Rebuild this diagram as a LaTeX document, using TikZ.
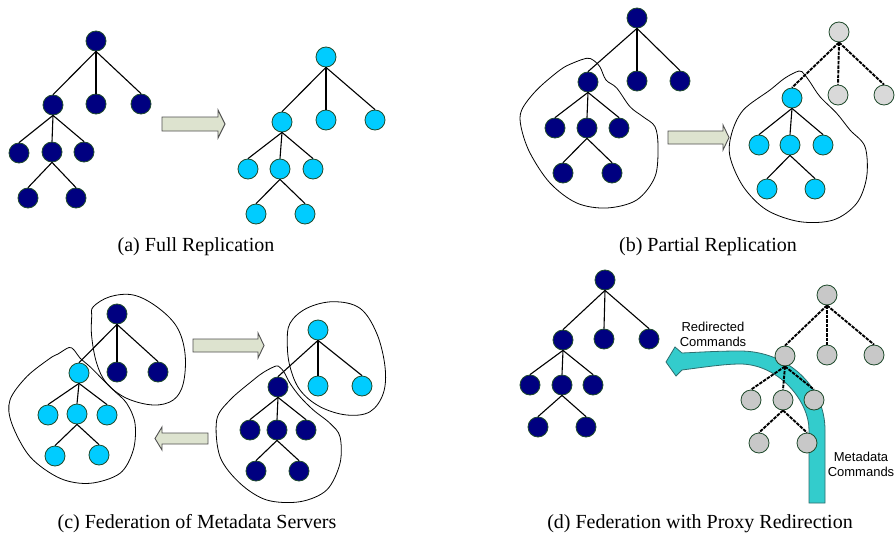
\documentclass[tikz,border=0pt]{standalone}
\usepackage{fontspec}
\setmainfont{Liberation Serif}
\newfontfamily\sansf{Liberation Sans}
\definecolor{navyc}{HTML}{000080}
\definecolor{cyanc}{HTML}{00CCFF}
\definecolor{grayc}{HTML}{C8C8C8}
\definecolor{graylt}{HTML}{D9D9D9}
\definecolor{ndstroke}{HTML}{1F4A2C}
\definecolor{blkfill}{HTML}{DDE3CF}
\definecolor{blkdraw}{HTML}{505050}
\definecolor{turq}{HTML}{33CCCC}
\definecolor{turqdraw}{HTML}{2E6E6E}
\begin{document}
\begin{tikzpicture}[x=1pt,y=-1pt,
 nd/.style={circle,minimum size=20pt,inner sep=0pt,line width=0.8pt,draw=ndstroke},
 dk/.style={nd,fill=navyc},
 cy/.style={nd,fill=cyanc},
 gy/.style={nd,fill=grayc},
 gyl/.style={nd,fill=graylt},
 edge/.style={line width=1.1pt,black},
 dedge/.style={line width=1.9pt,black,dash pattern=on 3.5pt off 1.1pt},
 blob/.style={line width=0.8pt,black},
 blk/.style={fill=blkfill,draw=blkdraw,line width=0.9pt},
 captxt/.style={font=\fontsize{20}{24}\selectfont},
 lab/.style={font=\sansf\fontsize{13}{15}\selectfont,align=center}]

\useasboundingbox[fill=white] (0,0) rectangle (895,538);

% ---------- (a) ----------
\node[dk] (aL-r)  at (96,41) {};
\node[dk] (aL-c1) at (53,105) {};
\node[dk] (aL-c2) at (96,104) {};
\node[dk] (aL-c3) at (141,104) {};
\node[dk] (aL-g1) at (19,153) {};
\node[dk] (aL-g2) at (52,152) {};
\node[dk] (aL-g3) at (84,152) {};
\node[dk] (aL-h1) at (28,198) {};
\node[dk] (aL-h2) at (76,198) {};

\node[cy] (aR-r)  at (326,57) {};
\node[cy] (aR-c1) at (282,122) {};
\node[cy] (aR-c2) at (326,120) {};
\node[cy] (aR-c3) at (375,120) {};
\node[cy] (aR-g1) at (248,169) {};
\node[cy] (aR-g2) at (280,169) {};
\node[cy] (aR-g3) at (313,169) {};
\node[cy] (aR-h1) at (256,214) {};
\node[cy] (aR-h2) at (305,214) {};

\draw[blk] (162,117) -- (218,117) -- (218,110) -- (225,124) -- (218,138) -- (218,131) -- (162,131) -- cycle;
\node[captxt] (capa) at (196,247) {(a) Full Replication};

% ---------- (b) ----------
\node[dk] (bL-r)  at (637,18) {};
\node[dk] (bL-c1) at (588,82) {};
\node[dk] (bL-c2) at (637,81) {};
\node[dk] (bL-c3) at (680,81) {};
\node[dk] (bL-g1) at (555,128) {};
\node[dk] (bL-g2) at (587,128) {};
\node[dk] (bL-g3) at (619,128) {};
\node[dk] (bL-h1) at (563,173) {};
\node[dk] (bL-h2) at (612,173) {};

\node[gyl] (bR-r)  at (839,32) {};
\node[cy]  (bR-c1) at (792,98) {};
\node[gyl] (bR-c2) at (838,95) {};
\node[gyl] (bR-c3) at (884,95) {};
\node[cy] (bR-g1) at (759,145) {};
\node[cy] (bR-g2) at (790,145) {};
\node[cy] (bR-g3) at (823,145) {};
\node[cy] (bR-h1) at (767,189) {};
\node[cy] (bR-h2) at (815,189) {};

\draw[blk] (668,131) -- (723,131) -- (723,125) -- (729,137.5) -- (723,150) -- (723,144) -- (668,144) -- cycle;
\node[captxt] (capb) at (708,247) {(b) Partial Replication};

% ---------- (c) ----------
\node[dk] (cL-r)  at (117,314) {};
\node[cy] (cL-c1) at (79,373) {};
\node[dk] (cL-c2) at (117,372) {};
\node[dk] (cL-c3) at (158,372) {};
\node[cy] (cL-g1) at (48,415) {};
\node[cy] (cL-g2) at (77,414) {};
\node[cy] (cL-g3) at (107,415) {};
\node[cy] (cL-h1) at (55,456) {};
\node[cy] (cL-h2) at (99,455) {};

\node[cy] (cR-r)  at (318,330) {};
\node[dk] (cR-c1) at (278,387) {};
\node[cy] (cR-c2) at (318,386) {};
\node[cy] (cR-c3) at (362,386) {};
\node[dk] (cR-g1) at (250,430) {};
\node[dk] (cR-g2) at (277,430) {};
\node[dk] (cR-g3) at (306,430) {};
\node[dk] (cR-h1) at (256,471) {};
\node[dk] (cR-h2) at (299,471) {};

\draw[blk] (193,339) -- (258,339) -- (258,333) -- (264,345.5) -- (258,358) -- (258,352) -- (193,352) -- cycle;
\draw[blk] (208,433) -- (162,433) -- (162,427) -- (155,438.5) -- (162,450) -- (162,444) -- (208,444) -- cycle;
\node[captxt] (capc) at (197,524) {(c) Federation of Metadata Servers};

% ---------- (d) ----------
\draw[fill=turq,draw=turqdraw,line width=0.8pt]
  (809,503) -- (825,503) -- (825,430) .. controls (825,385.8) and (786.9,351) .. (740,351)
  .. controls (715,351) and (695,352.5) .. (682,353) -- (675,347) -- (666,362) -- (676,376) -- (682,370)
  .. controls (705,367) and (725,364) .. (740,364)
  .. controls (778.1,364) and (809,400.4) .. (809,430) -- cycle;

\node[dk] (dL-r)  at (605,280) {};
\node[dk] (dL-c1) at (563,340) {};
\node[dk] (dL-c2) at (604,339) {};
\node[dk] (dL-c3) at (649,339) {};
\node[dk] (dL-g1) at (530,385) {};
\node[dk] (dL-g2) at (562,385) {};
\node[dk] (dL-g3) at (593,385) {};
\node[dk] (dL-h1) at (538,427) {};
\node[dk] (dL-h2) at (586,427) {};

\node[gy] (dR-r)  at (827,295) {};
\node[gy] (dR-c1) at (785,356) {};
\node[gy] (dR-c2) at (827,355) {};
\node[gy] (dR-c3) at (874,355) {};
\node[gy] (dR-g1) at (751,400) {};
\node[gy] (dR-g2) at (783,400) {};
\node[gy] (dR-g3) at (814,400) {};
\node[gy] (dR-h1) at (759,443) {};
\node[gy] (dR-h2) at (807,443) {};

\node[lab] (redir) at (713,334.5) {Redirected\\Commands};
\node[lab] (meta) at (861,464.5) {Metadata\\Commands};
\node[captxt] (capd) at (700,524) {(d) Federation with Proxy Redirection};

% ---------- edges ----------
\foreach \p in {aL,aR,bL,cL,cR,dL} {
  \draw[edge] (\p-r.south) -- (\p-c1.north);
  \draw[edge] (\p-r.south) -- (\p-c2.north);
  \draw[edge] (\p-r.south) -- (\p-c3.north);
}
\foreach \p in {aL,aR,bL,bR,cL,cR,dL} {
  \draw[edge] (\p-c1.south) -- (\p-g1.north);
  \draw[edge] (\p-c1.south) -- (\p-g2.north);
  \draw[edge] (\p-c1.south) -- (\p-g3.north);
  \draw[edge] (\p-g2.south) -- (\p-h1.north);
  \draw[edge] (\p-g2.south) -- (\p-h2.north);
}
\foreach \a/\b in {r/c1,r/c2,r/c3} {
  \draw[dedge] (bR-\a.south) -- (bR-\b.north);
}
\foreach \a/\b in {r/c1,r/c2,r/c3,c1/g1,c1/g2,c1/g3,g2/h1,g2/h2} {
  \draw[dedge] (dR-\a.south) -- (dR-\b.north);
}

% ---------- blobs ----------
\draw[blob] plot[smooth cycle,tension=0.55] coordinates {
 (586.7,58.3) (573,63) (560,70) (536.7,90) (521.7,110) (521,126.7) (530,153) (550,183)
 (576.7,203) (606.7,208) (636.7,200) (655,176.7) (658,146.7) (655,126.7)
 (643,116.7) (630,106.7) (616.7,88) (606,80) (600,67) (593,60)};
\draw[blob] plot[smooth cycle,tension=0.55] coordinates {
 (799,71) (785,78) (770,90) (743.3,110) (731.7,133.3) (730,156.7) (743.3,186.7)
 (766.7,210) (800,221.7) (833.3,220) (856.7,203.3) (866.7,176.7) (865,146.7)
 (850,130) (836.7,113.3) (820,96.7) (810,82) (804,74)};
\draw[blob] plot[smooth cycle,tension=0.6] coordinates {
 (93.3,306.7) (110,296.7) (133.3,295) (156.7,306.7) (176.7,326.7) (185,353.3)
 (183.3,383.3) (173.3,400) (153.3,405) (126.7,398.3) (106.7,383.3) (96.7,363.3)
 (91.7,336.7) (91.7,316.7)};
\draw[blob] plot[smooth cycle,tension=0.55] coordinates {
 (69,347.5) (58,354) (50,358.3) (26.7,376.7) (10,400) (11.7,423.3) (30,456.7) (60,478.3)
 (90,483.3) (120,473.3) (133.3,450) (135,423.3) (126.7,403.3) (113.3,390)
 (100,376.7) (90,366.7) (80,358) (74,350)};
\draw[blob] plot[smooth cycle,tension=0.6] coordinates {
 (290,323.3) (306.7,308.3) (333.3,301.7) (360,308.3) (376.7,333.3) (385,366.7)
 (383.3,393.3) (370,411.7) (346.7,415) (320,406.7) (300,390) (290,366.7) (287.3,343.3)};
\draw[blob] plot[smooth cycle,tension=0.55] coordinates {
 (276,366) (264,372) (253.3,380) (230,400) (216.7,420) (220,456.7) (240,483.3) (266.7,500)
 (300,501.7) (326.7,490) (340,463.3) (340,436.7) (330,423.3) (313.3,410)
 (300,396.7) (290,383.3) (284,372) (280,367.5)};
\end{tikzpicture}
\end{document}
